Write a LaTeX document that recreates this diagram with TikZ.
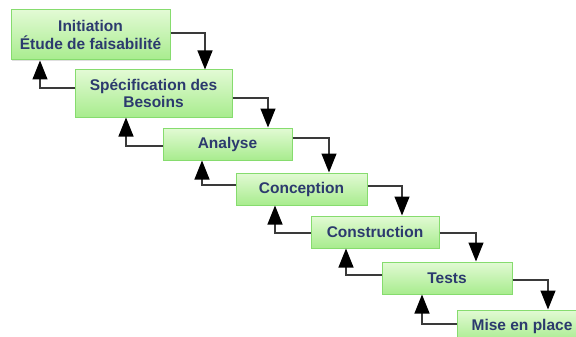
\documentclass[tikz,border=0pt]{standalone}
\usepackage{fontspec}
\setmainfont{Liberation Sans}
\usetikzlibrary{arrows.meta,shadows}
\definecolor{txt}{HTML}{2C3A6E}
\definecolor{bord}{HTML}{86DC6E}
\definecolor{topg}{HTML}{E2FAD4}
\definecolor{botg}{HTML}{A8EC8E}
\definecolor{ln}{HTML}{3A3A3A}
\tikzset{
  phase/.style={draw=bord, line width=1pt, top color=topg, bottom color=botg,
    font=\fontsize{15.5}{17.5}\selectfont\bfseries, text=txt, align=center,
    inner sep=0pt, drop shadow={shadow xshift=1pt, shadow yshift=-1pt, opacity=0.25}},
  flow/.style={draw=ln, line width=1.2pt, -{Triangle[length=19pt,width=15pt,color=black]}}
}
\begin{document}
\begin{tikzpicture}[x=1pt,y=1pt]
\useasboundingbox (0,0) rectangle (576,-337);
\clip (0,0) rectangle (576,-337);
\node[phase, minimum width=159pt, minimum height=50pt] (b1) at (90.5,-35) {Initiation\\Étude de faisabilité};
\node[phase, minimum width=157pt, minimum height=47pt] (b2) at (153.5,-93.5) {Spécification des\\Besoins};
\node[phase, minimum width=129pt, minimum height=32pt] (b3) at (227.5,-144) {Analyse};
\node[phase, minimum width=131pt, minimum height=32pt] (b4) at (301.5,-189) {Conception};
\node[phase, minimum width=128pt, minimum height=32pt] (b5) at (375,-232) {Construction};
\node[phase, minimum width=130pt, minimum height=32pt] (b6) at (447,-278) {Tests};
\node[phase, minimum width=130pt, minimum height=32pt] (b7) at (522,-326) {Mise en place};
% forward arrows
\draw[flow] ([yshift=2pt]b1.east) -| ([xshift=51.5pt]b2.north);
\draw[flow] ([yshift=-4.5pt]b2.east) -| ([xshift=40.5pt]b3.north);
\draw[flow] ([yshift=6pt]b3.east) -| ([xshift=27.5pt]b4.north);
\draw[flow] ([yshift=3pt]b4.east) -| ([xshift=27pt]b5.north);
\draw[flow] ([yshift=-1pt]b5.east) -| ([xshift=29pt]b6.north);
\draw[flow] ([yshift=-2pt]b6.east) -| ([xshift=26pt]b7.north);
% backward arrows
\draw[flow] ([yshift=5.5pt]b2.west) -| ([xshift=-50.5pt]b1.south);
\draw[flow] ([yshift=-2pt]b3.west) -| ([xshift=-27.5pt]b2.south);
\draw[flow] ([yshift=4pt]b4.west) -| ([xshift=-25.5pt]b3.south);
\draw[flow] ([yshift=-1pt]b5.west) -| ([xshift=-26.5pt]b4.south);
\draw[flow] ([yshift=3pt]b6.west) -| ([xshift=-29pt]b5.south);
\draw[flow] ([yshift=2pt]b7.west) -| ([xshift=-25pt]b6.south);
\end{tikzpicture}
\end{document}
